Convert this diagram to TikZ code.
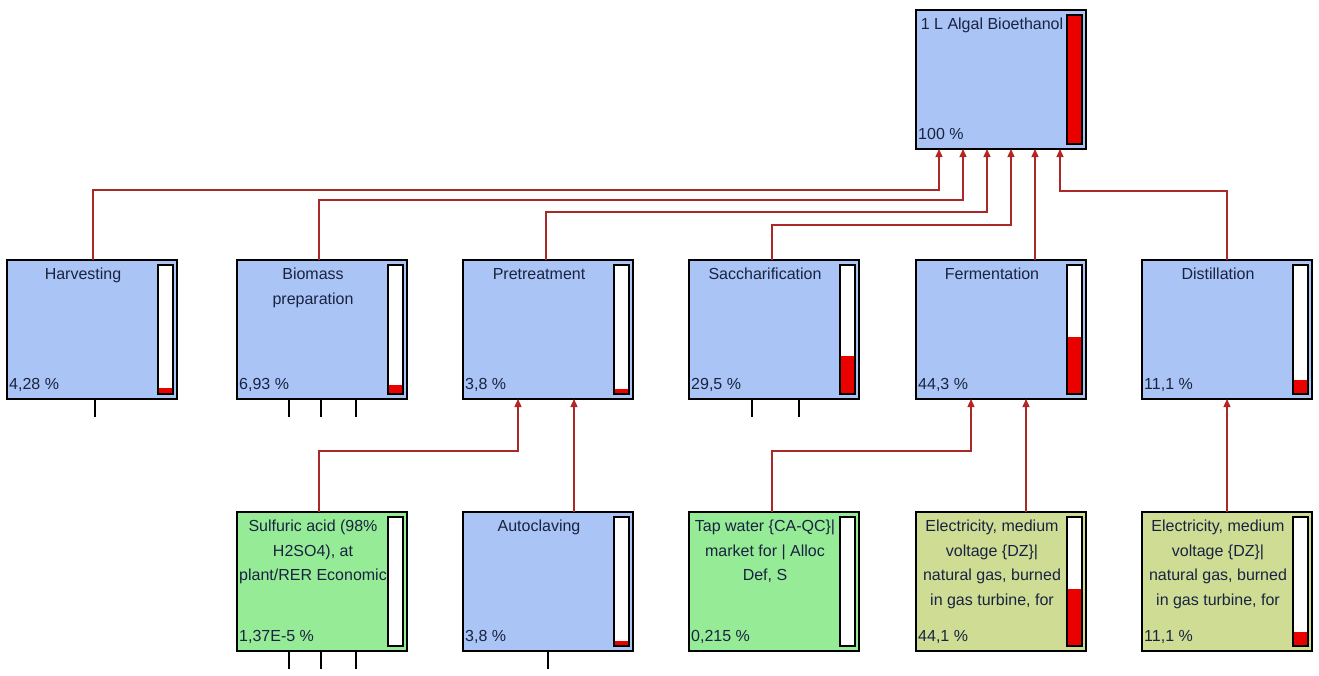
\documentclass[tikz,border=0pt]{standalone}
\usepackage{fontspec}
\setmainfont{Liberation Sans}
\usetikzlibrary{arrows.meta,calc}
\definecolor{boxblue}{RGB}{170,196,245}
\definecolor{boxgreen}{RGB}{150,235,150}
\definecolor{boxkhaki}{RGB}{206,220,148}
\definecolor{linecol}{RGB}{170,40,40}
\definecolor{arrred}{RGB}{225,20,20}
\definecolor{barred}{RGB}{235,0,0}
\definecolor{txtcol}{RGB}{25,35,65}
\tikzset{
  box/.style={draw=black, line width=1.6pt, anchor=north west, minimum width=170pt, minimum height=139pt, inner sep=0pt, outer sep=0pt},
  barframe/.style={draw=black, line width=1.4pt},
  ttl/.style={font=\fontsize{16}{24.5}\selectfont, text=txtcol, align=center, inner sep=0pt, anchor=north},
  pct/.style={font=\fontsize{16}{19}\selectfont, text=txtcol, inner sep=0pt, anchor=base west},
  conn/.style={draw=linecol, line width=1.3pt, -{Triangle[length=8pt,width=7pt,fill=arrred]}},
  stub/.style={draw=black, line width=1.2pt},
}
\newcommand\pbox[7]{%
  \node[box, fill=#4] (#1) at (#2,#3) {};
  \fill[white] ($(#1.north west)+(151,5)$) rectangle ($(#1.south west)+(166,-5)$);
  \fill[barred] ($(#1.south west)+(151,-5)$) rectangle ($(#1.south west)+(166,{-5-#7*129})$);
  \draw[barframe] ($(#1.north west)+(151,5)$) rectangle ($(#1.south west)+(166,-5)$);
  \node[ttl] at ($(#1.north west)+(76,8)$) {#5};
  \node[pct] at ($(#1.south west)+(2,-10)$) {#6};
}
\begin{document}
\begin{tikzpicture}[x=1pt,y=-1pt]
\fill[white] (0,0) rectangle (1319,675);
\useasboundingbox (0,0) rectangle (1319,675);

% top
\pbox{top}{916}{10}{boxblue}{1 L Algal Bioethanol}{100 \%}{1}
% middle row
\pbox{harv}{7}{260}{boxblue}{Harvesting}{4,28 \%}{0.0428}
\pbox{bio}{237}{260}{boxblue}{Biomass\\preparation}{6,93 \%}{0.0693}
\pbox{pre}{463}{260}{boxblue}{Pretreatment}{3,8 \%}{0.038}
\pbox{sac}{689}{260}{boxblue}{Saccharification}{29,5 \%}{0.295}
\pbox{fer}{916}{260}{boxblue}{Fermentation}{44,3 \%}{0.443}
\pbox{dis}{1142}{260}{boxblue}{Distillation}{11,1 \%}{0.111}
% bottom row
\pbox{sulf}{237}{512}{boxgreen}{Sulfuric acid (98\%\\H2SO4), at\\plant/RER Economic}{1,37E-5 \%}{0}
\pbox{auto}{463}{512}{boxblue}{Autoclaving}{3,8 \%}{0.038}
\pbox{tap}{689}{512}{boxgreen}{Tap water \{CA-QC\}|\\market for | Alloc\\Def, S}{0,215 \%}{0}
\pbox{el1}{916}{512}{boxkhaki}{Electricity, medium\\voltage \{DZ\}|\\natural gas, burned\\in gas turbine, for}{44,1 \%}{0.441}
\pbox{el2}{1142}{512}{boxkhaki}{Electricity, medium\\voltage \{DZ\}|\\natural gas, burned\\in gas turbine, for}{11,1 \%}{0.111}

% ports on the top node
\coordinate (t1) at ([xshift=23pt]top.south west);
\coordinate (t2) at ([xshift=47pt]top.south west);
\coordinate (t3) at ([xshift=71pt]top.south west);
\coordinate (t4) at ([xshift=95pt]top.south west);
\coordinate (t5) at ([xshift=119pt]top.south west);
\coordinate (t6) at ([xshift=144pt]top.south west);
% source ports
\coordinate (sh) at ([xshift=86pt]harv.north west);
\coordinate (sb) at ([xshift=82pt]bio.north west);
\coordinate (sp) at ([xshift=83pt]pre.north west);
\coordinate (ss) at ([xshift=83pt]sac.north west);
\coordinate (sf) at ([xshift=119pt]fer.north west);
\coordinate (sd) at ([xshift=85pt]dis.north west);
% levels
\coordinate (L1) at (0,190);
\coordinate (L2) at (0,200);
\coordinate (L3) at (0,212);
\coordinate (L4) at (0,225);
\coordinate (L6) at (0,191);
\coordinate (L7) at (0,451);

\draw[conn] (sh) |- (t1 |- L1) -- (t1);
\draw[conn] (sb) |- (t2 |- L2) -- (t2);
\draw[conn] (sp) |- (t3 |- L3) -- (t3);
\draw[conn] (ss) |- (t4 |- L4) -- (t4);
\draw[conn] (sf) -- (t5);
\draw[conn] (sd) |- (t6 |- L6) -- (t6);

% lower connectors
\coordinate (p1) at ([xshift=55pt]pre.south west);
\coordinate (p2) at ([xshift=111pt]pre.south west);
\coordinate (f1) at ([xshift=55pt]fer.south west);
\coordinate (f2) at ([xshift=110pt]fer.south west);
\coordinate (d1) at ([xshift=85pt]dis.south west);
\coordinate (su) at ([xshift=82pt]sulf.north west);
\coordinate (au) at ([xshift=111pt]auto.north west);
\coordinate (ta) at ([xshift=83pt]tap.north west);
\coordinate (e1) at ([xshift=110pt]el1.north west);
\coordinate (e2) at ([xshift=85pt]el2.north west);
\draw[conn] (su) |- (p1 |- L7) -- (p1);
\draw[conn] (au) -- (p2);
\draw[conn] (ta) |- (f1 |- L7) -- (f1);
\draw[conn] (e1) -- (f2);
\draw[conn] (e2) -- (d1);

% stubs
\draw[stub] ([xshift=88pt]harv.south west) -- ++(0,18);
\foreach \s in {52,84,119} {
  \draw[stub] ([xshift=\s pt]bio.south west) -- ++(0,18);
  \draw[stub] ([xshift=\s pt]sulf.south west) -- ++(0,18);
}
\foreach \s in {63,110} {
  \draw[stub] ([xshift=\s pt]sac.south west) -- ++(0,18);
}
\draw[stub] ([xshift=85pt]auto.south west) -- ++(0,18);
\end{tikzpicture}
\end{document}
